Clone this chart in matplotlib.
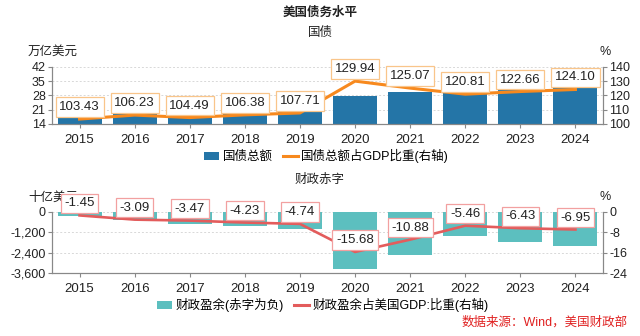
import matplotlib
matplotlib.use('Agg')
import matplotlib.pyplot as plt
from matplotlib.lines import Line2D
from matplotlib.patches import Patch
import numpy as np

plt.rcParams['font.family'] = ['Liberation Sans', 'Noto Sans CJK SC', 'DejaVu Sans']
plt.rcParams['axes.unicode_minus'] = False

# data
years = ['2015', '2016', '2017', '2018', '2019', '2020', '2021', '2022', '2023', '2024']
debt_total = [18.15, 19.6, 20.3, 21.6, 22.8, 27.8, 29.6, 31.4, 33.5, 36.0]          # 万亿美元
debt_gdp = [103.43, 106.23, 104.49, 106.38, 107.71, 129.94, 125.07, 120.81, 122.66, 124.10]
fiscal_balance = [-260, -500, -690, -850, -1010, -3350, -2530, -1400, -1790, -2020]  # 十亿美元
fiscal_gdp = [-1.45, -3.09, -3.47, -4.23, -4.74, -15.68, -10.88, -5.46, -6.43, -6.95]

BLUE = '#2475a7'
ORANGE = '#f7891e'
TEAL = '#5cbfbf'
RED = '#e35c5c'
GREY = '#888888'
TXT = '#222222'

W, H = 640, 336
fig = plt.figure(figsize=(W / 100, H / 100), dpi=100)


def px_axes(left, top, right, bottom):
    return fig.add_axes([left / W, 1 - bottom / H, (right - left) / W, (bottom - top) / H])


def style_axes(ax, ax2):
    for a in (ax, ax2):
        a.spines['top'].set_visible(False)
        for s in ('left', 'right', 'bottom'):
            a.spines[s].set_color(GREY)
            a.spines[s].set_linewidth(0.8)
        a.tick_params(colors=GREY, labelcolor=TXT, labelsize=9, length=3, width=0.8, pad=1.5)
    ax.tick_params(axis='x', labelsize=9.5, pad=4)
    ax.yaxis.grid(True, linestyle=(0, (2, 2)), color='#d8d8d8', linewidth=0.7)
    ax.set_axisbelow(True)
    ax.set_xlim(-0.5, len(years) - 0.5)


x = np.arange(len(years))

fig.text(0.5, 1 - 13 / H, '美国债务水平', ha='center', va='center', fontsize=9, fontweight='bold', color=TXT)
fig.text(0.5, 1 - 33 / H, '国债', ha='center', va='center', fontsize=9, color=TXT)
fig.text(0.5, 1 - 180 / H, '财政赤字', ha='center', va='center', fontsize=9, color=TXT)

# ---- top: 国债 ----
ax1 = px_axes(52, 66.7, 603, 124)
ax1b = ax1.twinx()
ax1.bar(x, np.array(debt_total) - 14, bottom=14, width=0.8, color=BLUE, zorder=2)
ax1.set_ylim(14, 42)
ax1.set_yticks([14, 21, 28, 35, 42])
ax1b.plot(x, debt_gdp, color=ORANGE, lw=2.2, zorder=3)
ax1b.set_ylim(100, 140)
ax1b.set_yticks([100, 110, 120, 130, 140])
style_axes(ax1, ax1b)
ax1.set_xticks(x)
ax1.set_xticklabels(years)
for xi, v in zip(x, debt_gdp):
    ax1b.annotate(f'{v:.2f}', (xi, v), xytext=(0, 12), textcoords='offset pixels',
                  ha='center', va='center', fontsize=9.5, color=TXT, zorder=5,
                  bbox=dict(boxstyle='square,pad=0.28', fc='white', ec='#f9c58a', lw=0.9))
fig.text(28 / W, 1 - 52 / H, '万亿美元', ha='left', va='center', fontsize=9, color=TXT)
fig.text(605 / W, 1 - 52 / H, '%', ha='center', va='center', fontsize=9, color=TXT)

fig.legend(handles=[Patch(facecolor=BLUE, edgecolor='none'),
                    Line2D([], [], color=ORANGE, lw=2.2)],
           labels=['国债总额', '国债总额占GDP比重(右轴)'],
           loc='center', bbox_to_anchor=(0.51, 1 - 156 / H), ncol=2, frameon=False,
           fontsize=9, handlelength=1.2, handleheight=0.6, handletextpad=0.3, columnspacing=0.8)

# ---- bottom: 财政赤字 ----
ax2 = px_axes(52, 211.7, 603, 273.3)
ax2b = ax2.twinx()
ax2.bar(x, fiscal_balance, width=0.8, color=TEAL, zorder=2)
ax2.set_ylim(-3600, 0)
ax2.set_yticks([0, -1200, -2400, -3600])
ax2.set_yticklabels(['0', '-1,200', '-2,400', '-3,600'])
ax2b.plot(x, fiscal_gdp, color=RED, lw=1.9, zorder=3)
ax2b.set_ylim(-24, 0)
ax2b.set_yticks([0, -8, -16, -24])
style_axes(ax2, ax2b)
ax2.set_xticks(x)
ax2.set_xticklabels(years)
# unit label sits behind the first value box
fig.text(28 / W, 1 - 198 / H, '十亿美元', ha='left', va='center', fontsize=9, color=TXT, zorder=-1)
fig.text(605 / W, 1 - 197 / H, '%', ha='center', va='center', fontsize=9, color=TXT)
for xi, v in zip(x, fiscal_gdp):
    ax2b.annotate(f'{v:.2f}', (xi, v), xytext=(0, 12), textcoords='offset pixels',
                  ha='center', va='center', fontsize=9.5, color=TXT, zorder=5, annotation_clip=False,
                  bbox=dict(boxstyle='square,pad=0.28', fc='white', ec='#f2a0a0', lw=0.9))

fig.legend(handles=[Patch(facecolor=TEAL, edgecolor='none'),
                    Line2D([], [], color=RED, lw=2.2)],
           labels=['财政盈余(赤字为负)', '财政盈余占美国GDP:比重(右轴)'],
           loc='center', bbox_to_anchor=(0.505, 1 - 305 / H), ncol=2, frameon=False,
           fontsize=9, handlelength=1.2, handleheight=0.6, handletextpad=0.3, columnspacing=0.8)

fig.text(628 / W, 1 - 322 / H, '数据来源：Wind，美国财政部', ha='right', va='center', fontsize=9, color='#e02020')

fig.savefig('out.png', dpi=100)
